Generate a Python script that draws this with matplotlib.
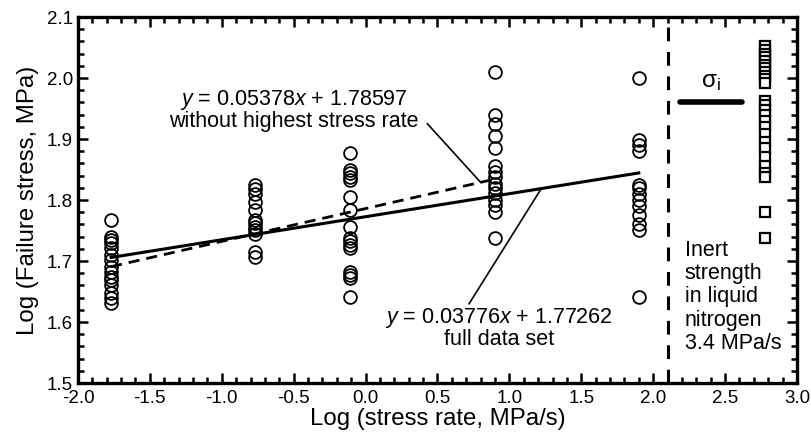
import matplotlib
matplotlib.use("Agg")
import matplotlib.pyplot as plt
from matplotlib.ticker import MultipleLocator
import numpy as np

plt.rcParams['font.family'] = ['Liberation Sans', 'DejaVu Sans']
plt.rcParams['mathtext.fontset'] = 'custom'
plt.rcParams['mathtext.rm'] = 'Liberation Sans'
plt.rcParams['mathtext.it'] = 'Liberation Sans:italic'
plt.rcParams['axes.unicode_minus'] = False

# stress-rate levels (log MPa/s) and failure stresses (log MPa)
rate_levels = [-1.77, -0.77, -0.11, 0.90, 1.90]
col1 = [1.767, 1.740, 1.734, 1.730, 1.721, 1.710, 1.702, 1.690, 1.682, 1.674, 1.669, 1.661, 1.648, 1.639, 1.631]
col2 = [1.825, 1.818, 1.810, 1.797, 1.784, 1.768, 1.762, 1.756, 1.751, 1.744, 1.715, 1.706]
col3 = [1.877, 1.849, 1.844, 1.838, 1.833, 1.805, 1.784, 1.756, 1.737, 1.732, 1.726, 1.721, 1.682, 1.677, 1.672, 1.641]
col4 = [2.010, 1.940, 1.925, 1.905, 1.885, 1.855, 1.846, 1.838, 1.827, 1.819, 1.811, 1.800, 1.792, 1.781, 1.737]
col5 = [2.000, 1.898, 1.890, 1.880, 1.825, 1.820, 1.810, 1.800, 1.790, 1.775, 1.760, 1.751, 1.641]
columns = [col1, col2, col3, col4, col5]

# inert strength (liquid nitrogen, 3.4 MPa/s), plotted at a display position
inert_x = 2.78
inert = [2.052, 2.046, 2.040, 2.034, 2.028, 2.022, 2.016, 2.010, 2.004, 1.998, 1.992,
         1.962, 1.955, 1.948, 1.940, 1.930, 1.920, 1.908, 1.895, 1.885, 1.870, 1.855, 1.845, 1.838,
         1.781, 1.737]
sigma_i = 1.961
sigma_span = [2.19, 2.62]

# fits
fit_full = (0.03776, 1.77262)
fit_part = (0.05378, 1.78597)

fig = plt.figure(figsize=(8.12, 4.43), dpi=100)
ax = fig.add_axes([0.096, 0.1354, 0.8855, 0.8262])

FS = 15.5
TFS = 13.5
LFS = 17.3
for xv, col in zip(rate_levels, columns):
    ax.plot([xv] * len(col), col, 'o', mfc='none', mec='black', mew=1.3, ms=9.2, ls='none')

ax.plot([inert_x] * len(inert), inert, 's', mfc='white', mec='black', mew=1.6, ms=7.2, ls='none')

xf = np.array([rate_levels[0], rate_levels[-1]])
ax.plot(xf, fit_full[0] * xf + fit_full[1], '-', color='black', lw=2.2)
xp = np.array([rate_levels[0], rate_levels[3]])
ax.plot(xp, fit_part[0] * xp + fit_part[1], '--', color='black', lw=2.0, dashes=(4, 2.5))

ax.axvline(2.1, color='black', lw=2.2, dashes=(4.5, 3.5))
ax.plot(sigma_span, [sigma_i, sigma_i], '-', color='black', lw=4, solid_capstyle='round')
ax.text(2.405, 1.975, r'$\mathregular{\sigma_i}$', fontsize=FS + 2, ha='center', va='bottom')

ax.text(-0.5, 1.964, r'$y$ = 0.05378$x$ + 1.78597', fontsize=FS, ha='center', va='center')
ax.text(-0.5, 1.928, 'without highest stress rate', fontsize=FS, ha='center', va='center')
ax.plot([0.43, 0.80], [1.925, 1.829], color='black', lw=1.2)

ax.text(0.93, 1.607, r'$y$ = 0.03776$x$ + 1.77262', fontsize=FS, ha='center', va='center')
ax.text(0.93, 1.572, 'full data set', fontsize=FS, ha='center', va='center')
ax.plot([0.72, 1.22], [1.630, 1.818], color='black', lw=1.2)

ax.text(2.22, 1.735, 'Inert\nstrength\nin liquid\nnitrogen\n3.4 MPa/s', fontsize=FS,
        ha='left', va='top', linespacing=1.15)

ax.set_xlim(-2.0, 3.0)
ax.set_ylim(1.5, 2.1)
ax.xaxis.set_major_locator(MultipleLocator(0.5))
ax.xaxis.set_minor_locator(MultipleLocator(0.1))
ax.yaxis.set_major_locator(MultipleLocator(0.1))
ax.yaxis.set_minor_locator(MultipleLocator(0.02))
ax.xaxis.set_major_formatter(plt.FuncFormatter(lambda v, p: f'{v:.1f}'))
ax.yaxis.set_major_formatter(plt.FuncFormatter(lambda v, p: f'{v:.1f}'))
ax.tick_params(which='both', direction='in', top=True, right=True, width=1.8, labelsize=TFS)
ax.tick_params(which='major', length=7)
ax.tick_params(which='minor', length=4)
ax.tick_params(axis='x', pad=5)
for s in ax.spines.values():
    s.set_linewidth(2.4)

ax.set_xlabel('Log (stress rate, MPa/s)', fontsize=LFS, labelpad=1)
ax.set_ylabel('Log (Failure stress, MPa)', fontsize=LFS, labelpad=6)

fig.savefig('out.png', dpi=100)
